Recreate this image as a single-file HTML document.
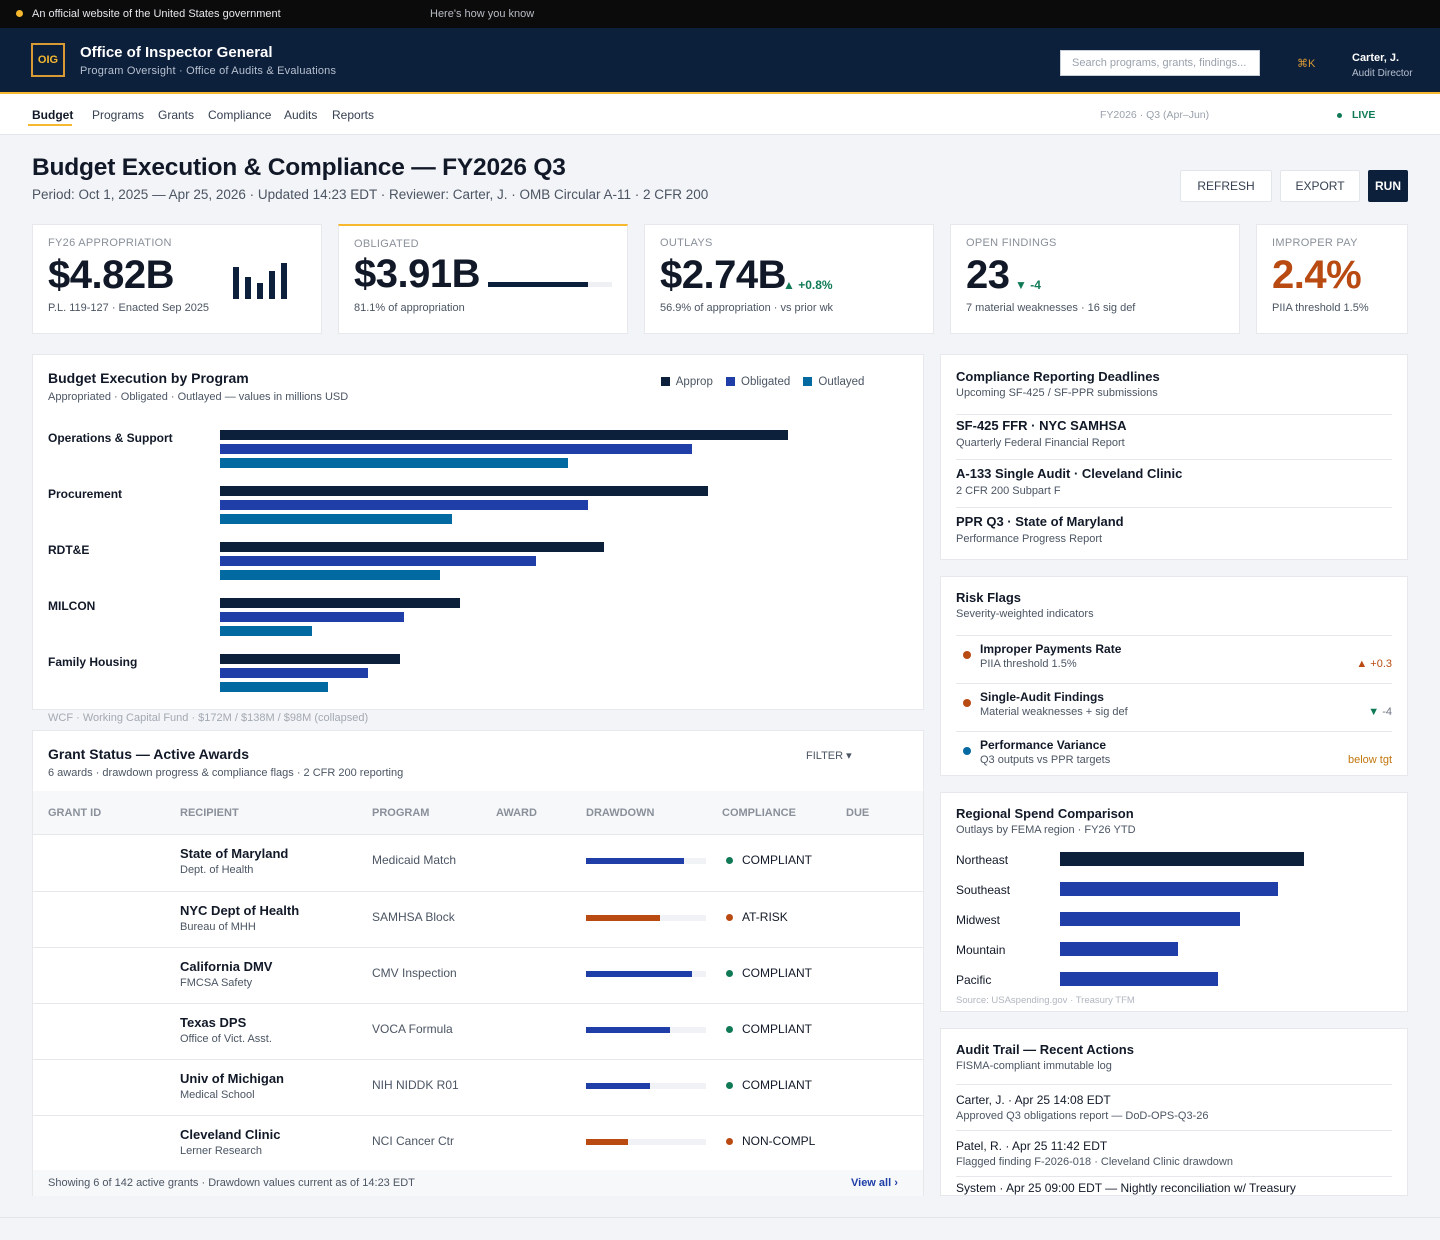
<!DOCTYPE html>
<html><head><meta charset="utf-8"><style>
*{box-sizing:border-box;margin:0;padding:0}
body{width:1440px;height:1240px;background:#f3f4f7;font-family:"Liberation Sans",sans-serif;color:#111827;position:relative;overflow:hidden}
.a{position:absolute}
.card{position:absolute;background:#fff;border:1px solid #e6e8ec}
.lbl{font-size:11px;color:#8a909a;letter-spacing:.3px}
.sub{font-size:11px;color:#4b5563}
.h{font-size:14px;font-weight:bold;color:#111827}
.btn{position:absolute;background:#fff;border:1px solid #e2e5ea;font-size:12px;color:#374151;text-align:center;line-height:30px;border-radius:2px}
.big{font-size:40px;font-weight:bold;letter-spacing:-0.5px}
</style></head><body>
<div class="a" style="left:0;top:0;width:1440px;height:28px;background:#0b0b0b">
 <div class="a" style="left:16px;top:10px;width:7px;height:7px;border-radius:50%;background:#f5b82e"></div>
 <div class="a" style="left:32px;top:8px;font-size:11px;color:#e5e7eb">An official website of the United States government</div>
 <div class="a" style="left:430px;top:8px;font-size:11px;color:#b8bcc4">Here's how you know</div>
</div>
<div class="a" style="left:0;top:28px;width:1440px;height:66px;background:#0c1f3b;border-bottom:2px solid #f5b82e">
 <div class="a" style="left:31px;top:15px;width:34px;height:34px;border:2px solid #d99a35;color:#f5b82e;font-size:11px;font-weight:bold;text-align:center;line-height:30px">OIG</div>
 <div class="a" style="left:80px;top:16px;font-size:15px;font-weight:bold;color:#fff">Office of Inspector General</div>
 <div class="a" style="left:80px;top:37px;font-size:11px;color:#b7c0cf;letter-spacing:.2px">Program Oversight · Office of Audits &amp; Evaluations</div>
 <div class="a" style="left:1060px;top:22px;width:200px;height:26px;background:#fff;border:1px solid #c9ced6;font-size:11px;color:#9aa1ac;padding:6px 11px">Search programs, grants, findings...</div>
 <div class="a" style="left:1297px;top:29px;font-size:11px;color:#d99a35">⌘K</div>
 <div class="a" style="left:1352px;top:24px;font-size:11px;font-weight:bold;color:#fff">Carter, J.</div>
 <div class="a" style="left:1352px;top:40px;font-size:10px;color:#b7c0cf">Audit Director</div>
</div>
<div class="a" style="left:0;top:94px;width:1440px;height:41px;background:#fff;border-bottom:1px solid #e2e5ea">
 <div class="a" style="left:32px;top:14px;font-size:12px;font-weight:bold;color:#111827">Budget</div>
 <div class="a" style="left:28px;top:30px;width:44px;height:2px;background:#f5b82e"></div>
 <div class="a" style="left:92px;top:14px;font-size:12px;color:#374151">Programs</div>
 <div class="a" style="left:158px;top:14px;font-size:12px;color:#374151">Grants</div>
 <div class="a" style="left:208px;top:14px;font-size:12px;color:#374151">Compliance</div>
 <div class="a" style="left:284px;top:14px;font-size:12px;color:#374151">Audits</div>
 <div class="a" style="left:332px;top:14px;font-size:12px;color:#374151">Reports</div>
 <div class="a" style="left:1100px;top:15px;font-size:10.5px;color:#9aa1ac">FY2026 · Q3 (Apr–Jun)</div>
 <div class="a" style="left:1337px;top:19px;width:5px;height:5px;border-radius:50%;background:#0f7a55"></div>
 <div class="a" style="left:1352px;top:15px;font-size:10.5px;font-weight:bold;color:#0f7a55">LIVE</div>
</div>
<div class="a" style="left:32px;top:154px;font-size:24.5px;font-weight:bold;color:#111827;letter-spacing:-0.2px">Budget Execution &amp; Compliance — FY2026 Q3</div>
<div class="a" style="left:32px;top:187px;font-size:13.5px;color:#4b5563">Period: Oct 1, 2025 — Apr 25, 2026 · Updated 14:23 EDT · Reviewer: Carter, J. · OMB Circular A-11 · 2 CFR 200</div>
<div class="btn" style="left:1180px;top:170px;width:92px;height:32px">REFRESH</div>
<div class="btn" style="left:1280px;top:170px;width:80px;height:32px">EXPORT</div>
<div class="btn" style="left:1368px;top:170px;width:40px;height:32px;background:#0c1f3b;color:#fff;font-weight:bold;border-color:#0c1f3b">RUN</div>

<div class="card" style="left:32px;top:224px;width:290px;height:110px">
 <div class="a lbl" style="left:15px;top:12px">FY26 APPROPRIATION</div>
 <div class="a big" style="left:15px;top:28px">$4.82B</div>
 <svg class="a" style="left:198px;top:36px" width="60" height="40"><rect x="2" y="6" width="6" height="32" fill="#0c1f3b"/><rect x="14" y="16" width="6" height="22" fill="#0c1f3b"/><rect x="26" y="22" width="6" height="16" fill="#0c1f3b"/><rect x="38" y="10" width="6" height="28" fill="#0c1f3b"/><rect x="50" y="2" width="6" height="36" fill="#0c1f3b"/></svg>
 <div class="a sub" style="left:15px;top:77px">P.L. 119-127 · Enacted Sep 2025</div>
</div>
<div class="card" style="left:338px;top:224px;width:290px;height:110px;border-top:2px solid #f5b82e">
 <div class="a lbl" style="left:15px;top:12px">OBLIGATED</div>
 <div class="a big" style="left:15px;top:26px">$3.91B</div>
 <div class="a" style="left:149px;top:56px;width:124px;height:5px;background:#eef0f4"><div style="width:100px;height:5px;background:#0c1f3b"></div></div>
 <div class="a sub" style="left:15px;top:76px">81.1% of appropriation</div>
</div>
<div class="card" style="left:644px;top:224px;width:290px;height:110px">
 <div class="a lbl" style="left:15px;top:12px">OUTLAYS</div>
 <div class="a big" style="left:15px;top:28px">$2.74B</div>
 <div class="a" style="left:138px;top:53px;font-size:12px;font-weight:bold;color:#0f7a55">▲ +0.8%</div>
 <div class="a sub" style="left:15px;top:77px">56.9% of appropriation · vs prior wk</div>
</div>
<div class="card" style="left:950px;top:224px;width:290px;height:110px">
 <div class="a lbl" style="left:15px;top:12px">OPEN FINDINGS</div>
 <div class="a big" style="left:15px;top:28px">23</div>
 <div class="a" style="left:64px;top:53px;font-size:12px;font-weight:bold;color:#0f7a55">▼ -4</div>
 <div class="a sub" style="left:15px;top:77px">7 material weaknesses · 16 sig def</div>
</div>
<div class="card" style="left:1256px;top:224px;width:152px;height:110px">
 <div class="a lbl" style="left:15px;top:12px">IMPROPER PAY</div>
 <div class="a big" style="left:15px;top:28px;color:#b84a12">2.4%</div>
 <div class="a sub" style="left:15px;top:77px">PIIA threshold 1.5%</div>
</div>

<div class="card" style="left:32px;top:354px;width:892px;height:356px">
 <div class="a h" style="left:15px;top:15px">Budget Execution by Program</div>
 <div class="a sub" style="left:15px;top:36px">Appropriated · Obligated · Outlayed — values in millions USD</div>
 <div class="a" style="left:628px;top:21px;font-size:11.5px;color:#4b5563;white-space:nowrap">
  <span><i style="display:inline-block;width:9px;height:9px;background:#0c1f3b;vertical-align:-1px"></i>&nbsp; Approp</span>&nbsp;&nbsp;&nbsp;
  <span><i style="display:inline-block;width:9px;height:9px;background:#1f3ea8;vertical-align:-1px"></i>&nbsp; Obligated</span>&nbsp;&nbsp;&nbsp;
  <span><i style="display:inline-block;width:9px;height:9px;background:#0369a1;vertical-align:-1px"></i>&nbsp; Outlayed</span>
 </div>
</div>
<svg class="a" id="budgetChart" style="left:0;top:0" width="940" height="720"></svg>
<div class="a" style="left:48px;top:712px;font-size:11px;color:#a3a9b3">WCF · Working Capital Fund · $172M / $138M / $98M (collapsed)</div>

<div class="card" style="left:32px;top:730px;width:892px;height:466px">
 <div class="a h" style="left:15px;top:15px">Grant Status — Active Awards</div>
 <div class="a sub" style="left:15px;top:36px">6 awards · drawdown progress &amp; compliance flags · 2 CFR 200 reporting</div>
 <div class="a" style="left:773px;top:18px;font-size:11px;color:#4b5563">FILTER ▾</div>
 <div class="a" style="left:0;top:60px;width:890px;height:44px;background:#f7f8fa;border-bottom:1px solid #e5e7eb;font-size:11px;color:#8a909a;font-weight:bold">
  <span class="a" style="left:15px;top:16px">GRANT ID</span><span class="a" style="left:147px;top:16px">RECIPIENT</span><span class="a" style="left:339px;top:16px">PROGRAM</span><span class="a" style="left:463px;top:16px">AWARD</span><span class="a" style="left:553px;top:16px">DRAWDOWN</span><span class="a" style="left:689px;top:16px">COMPLIANCE</span><span class="a" style="left:813px;top:16px">DUE</span>
 </div>
 <div class="a" id="grantRows" style="left:0;top:104px;width:890px;height:336px"></div>
 <div class="a" style="left:0;top:439px;width:890px;height:26px;background:#f7f8fa;font-size:11px;color:#4b5563">
  <span class="a" style="left:15px;top:7px">Showing 6 of 142 active grants · Drawdown values current as of 14:23 EDT</span>
  <span class="a" style="left:818px;top:7px;color:#1f3ea8;font-weight:bold">View all ›</span>
 </div>
</div>

<div class="card" style="left:940px;top:354px;width:468px;height:206px">
 <div class="a h" style="left:15px;top:14px;font-size:13px">Compliance Reporting Deadlines</div>
 <div class="a sub" style="left:15px;top:32px">Upcoming SF-425 / SF-PPR submissions</div>
 <div class="a" style="left:15px;right:15px;top:59px;border-top:1px solid #e5e7eb"></div>
 <div class="a h" style="left:15px;top:63px;font-size:13px">SF-425 FFR · NYC SAMHSA</div>
 <div class="a sub" style="left:15px;top:82px">Quarterly Federal Financial Report</div>
 <div class="a" style="left:15px;right:15px;top:104px;border-top:1px solid #e5e7eb"></div>
 <div class="a h" style="left:15px;top:111px;font-size:13px">A-133 Single Audit · Cleveland Clinic</div>
 <div class="a sub" style="left:15px;top:130px">2 CFR 200 Subpart F</div>
 <div class="a" style="left:15px;right:15px;top:152px;border-top:1px solid #e5e7eb"></div>
 <div class="a h" style="left:15px;top:159px;font-size:13px">PPR Q3 · State of Maryland</div>
 <div class="a sub" style="left:15px;top:178px">Performance Progress Report</div>
</div>

<div class="card" style="left:940px;top:576px;width:468px;height:200px">
 <div class="a h" style="left:15px;top:13px;font-size:13px">Risk Flags</div>
 <div class="a sub" style="left:15px;top:31px">Severity-weighted indicators</div>
 <div class="a" style="left:15px;right:15px;top:58px;border-top:1px solid #e5e7eb"></div>
 <div class="a" style="left:22px;top:74px;width:8px;height:8px;border-radius:50%;background:#b84a12"></div>
 <div class="a" style="left:39px;top:65px;font-size:12px;font-weight:bold">Improper Payments Rate</div>
 <div class="a sub" style="left:39px;top:81px">PIIA threshold 1.5%</div>
 <div class="a" style="right:15px;top:81px;font-size:11px;color:#b84a12">▲ +0.3</div>
 <div class="a" style="left:15px;right:15px;top:106px;border-top:1px solid #e5e7eb"></div>
 <div class="a" style="left:22px;top:122px;width:8px;height:8px;border-radius:50%;background:#b84a12"></div>
 <div class="a" style="left:39px;top:113px;font-size:12px;font-weight:bold">Single-Audit Findings</div>
 <div class="a sub" style="left:39px;top:129px">Material weaknesses + sig def</div>
 <div class="a" style="right:15px;top:129px;font-size:11px;color:#0f7a55">▼ <span style="color:#6b7280">-4</span></div>
 <div class="a" style="left:15px;right:15px;top:154px;border-top:1px solid #e5e7eb"></div>
 <div class="a" style="left:22px;top:170px;width:8px;height:8px;border-radius:50%;background:#0369a1"></div>
 <div class="a" style="left:39px;top:161px;font-size:12px;font-weight:bold">Performance Variance</div>
 <div class="a sub" style="left:39px;top:177px">Q3 outputs vs PPR targets</div>
 <div class="a" style="right:15px;top:177px;font-size:11px;color:#c2770e">below tgt</div>
</div>

<div class="card" style="left:940px;top:792px;width:468px;height:220px">
 <div class="a h" style="left:15px;top:13px;font-size:13px">Regional Spend Comparison</div>
 <div class="a sub" style="left:15px;top:31px">Outlays by FEMA region · FY26 YTD</div>
 <div class="a" style="left:15px;top:202px;font-size:9.5px;color:#b0b6bf">Source: USAspending.gov · Treasury TFM</div>
</div>
<svg class="a" id="regionChart" style="left:940px;top:840px" width="468" height="160"></svg>

<div class="card" style="left:940px;top:1028px;width:468px;height:168px;overflow:hidden">
 <div class="a h" style="left:15px;top:13px;font-size:13px">Audit Trail — Recent Actions</div>
 <div class="a sub" style="left:15px;top:31px">FISMA-compliant immutable log</div>
 <div class="a" style="left:15px;right:15px;top:55px;border-top:1px solid #e5e7eb"></div>
 <div class="a" style="left:15px;top:64px;font-size:12px">Carter, J. · Apr 25 14:08 EDT</div>
 <div class="a sub" style="left:15px;top:81px">Approved Q3 obligations report — DoD-OPS-Q3-26</div>
 <div class="a" style="left:15px;right:15px;top:101px;border-top:1px solid #e5e7eb"></div>
 <div class="a" style="left:15px;top:110px;font-size:12px">Patel, R. · Apr 25 11:42 EDT</div>
 <div class="a sub" style="left:15px;top:127px">Flagged finding F-2026-018 · Cleveland Clinic drawdown</div>
 <div class="a" style="left:15px;right:15px;top:147px;border-top:1px solid #e5e7eb"></div>
 <div class="a" style="left:15px;top:152px;font-size:12px">System · Apr 25 09:00 EDT — Nightly reconciliation w/ Treasury</div>
</div>
<div class="a" style="left:0;top:1217px;width:1440px;border-top:1px solid #e2e5ea"></div>

<script>
// Budget chart data (millions USD)
const programs = ["Operations & Support","Procurement","RDT&E","MILCON","Family Housing"];
const appropVals = [1420,1220,960,600,450];
const obligatedVals = [1180,920,790,460,370];
const outlayedVals = [870,580,550,230,270];
// Regional data
const regions = ["Northeast","Southeast","Midwest","Mountain","Pacific"];
const regionVals = [610,545,450,295,395];
// Grants
const grantRecipients = ["State of Maryland","NYC Dept of Health","California DMV","Texas DPS","Univ of Michigan","Cleveland Clinic"];
const grantSubs = ["Dept. of Health","Bureau of MHH","FMCSA Safety","Office of Vict. Asst.","Medical School","Lerner Research"];
const grantPrograms = ["Medicaid Match","SAMHSA Block","CMV Inspection","VOCA Formula","NIH NIDDK R01","NCI Cancer Ctr"];
const drawdownPct = [82,62,88,70,53,35];
const complianceStatus = ["COMPLIANT","AT-RISK","COMPLIANT","COMPLIANT","COMPLIANT","NON-COMPL"];

const NS="http://www.w3.org/2000/svg";
const bx = v => v/2.5;
const bandY = i => 430 + i*56;
const svg=document.getElementById('budgetChart');
const series=[[appropVals,"#0c1f3b","approp"],[obligatedVals,"#1f3ea8","obligated"],[outlayedVals,"#0369a1","outlayed"]];
programs.forEach((p,i)=>{
  const t=document.createElementNS(NS,'text');
  t.setAttribute('x',48);t.setAttribute('y',bandY(i)+12);
  t.setAttribute('font-size','12');t.setAttribute('font-weight','bold');t.setAttribute('fill','#111827');
  t.setAttribute('font-family','Liberation Sans, sans-serif');
  
  
  t.textContent=p;svg.appendChild(t);
  series.forEach((s,k)=>{
    const r=document.createElementNS(NS,'rect');
    r.setAttribute('x',220);r.setAttribute('y',bandY(i)+k*14);
    r.setAttribute('width',bx(s[0][i]));r.setAttribute('height',10);r.setAttribute('fill',s[1]);
    
    
    svg.appendChild(r);
  });
});
const rs=document.getElementById('regionChart');
const ry=i=>12+i*30;
regions.forEach((g,i)=>{
  const t=document.createElementNS(NS,'text');
  t.setAttribute('x',16);t.setAttribute('y',ry(i)+12);t.setAttribute('font-size','12');t.setAttribute('fill','#111827');
  t.setAttribute('font-family','Liberation Sans, sans-serif');
  
  
  t.textContent=g;rs.appendChild(t);
  const r=document.createElementNS(NS,'rect');
  r.setAttribute('x',120);r.setAttribute('y',ry(i));r.setAttribute('width',bx(regionVals[i]));r.setAttribute('height',14);
  r.setAttribute('fill',i===0?'#0c1f3b':'#1f3ea8');
  
  
  rs.appendChild(r);
});
const gr=document.getElementById('grantRows');
grantRecipients.forEach((name,i)=>{
  const bad=complianceStatus[i]!=="COMPLIANT";
  const col=bad?'#b84a12':'#1f3ea8';
  const d=document.createElement('div');
  d.className='a';d.style.cssText='left:0;width:890px;height:56px;top:'+(i*56)+'px;'+(i?'border-top:1px solid #e5e7eb':'');
  
  
  d.innerHTML='<span class="a" style="left:147px;top:11px;font-size:13px;font-weight:bold">'+name+'</span>'+
   '<span class="a sub" style="left:147px;top:29px">'+grantSubs[i]+'</span>'+
   '<span class="a" style="left:339px;top:18px;font-size:12px;color:#4b5563">'+grantPrograms[i]+'</span>'+
   '<span class="a" style="left:553px;top:23px;width:120px;height:6px;background:#f0f2f5"><span style="display:block;height:6px;background:'+col+';width:'+(drawdownPct[i]*1.2)+'px"></span></span>'+
   '<span class="a" style="left:693px;top:22px;width:7px;height:7px;border-radius:50%;background:'+(bad?'#b84a12':'#0f7a55')+'"></span>'+
   '<span class="a" style="left:709px;top:18px;font-size:12px;color:#111827">'+complianceStatus[i]+'</span>';
  gr.appendChild(d);
});
</script>
</body></html>
